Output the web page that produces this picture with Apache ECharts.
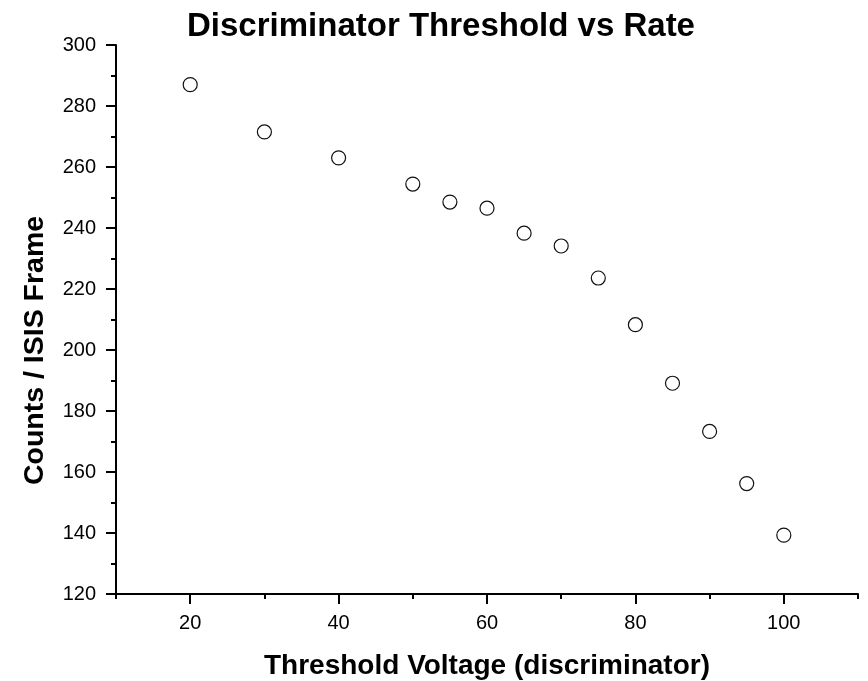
<!DOCTYPE html>
<html>
<head>
<meta charset="utf-8">
<script src="https://cdn.jsdelivr.net/npm/echarts@6/dist/echarts.min.js"></script>
<style>
html,body{margin:0;padding:0;background:#fff;}
#chart{width:868px;height:681px;}
</style>
</head>
<body>
<div id="chart"></div>
<script>
const thresholdVoltage = [20, 30, 40, 50, 55, 60, 65, 70, 75, 80, 85, 90, 95, 100];
const countsPerFrame = [287.0, 271.5, 263.0, 254.4, 248.5, 246.5, 238.3, 234.1, 223.6, 208.3, 189.1, 173.3, 156.2, 139.3];
const xMajorTicks = [20, 40, 60, 80, 100];
const titleText = 'Discriminator Threshold vs Rate';
const xName = 'Threshold Voltage (discriminator)';
const yName = 'Counts / ISIS Frame';

const FONT = 'Liberation Sans, Arial, Helvetica, sans-serif';
const points = thresholdVoltage.map((x, i) => [x, countsPerFrame[i]]);

const chart = echarts.init(document.getElementById('chart'), null, {renderer: 'canvas'});
chart.setOption({
  backgroundColor: '#ffffff',
  animation: false,
  title: {
    text: titleText,
    left: 182,
    top: 5,
    textStyle: {fontFamily: FONT, fontSize: 33, fontWeight: 'bold', color: '#000'}
  },
  grid: {left: 116, right: 10, top: 45, bottom: 87, containLabel: false, outerBoundsMode: 'none'},
  xAxis: [
    {
      type: 'value', min: 10, max: 110, interval: 10, position: 'bottom',
      axisLine: {show: true, onZero: false, lineStyle: {color: '#000', width: 2}},
      axisTick: {show: true, inside: false, length: 5, lineStyle: {color: '#000', width: 2}},
      axisLabel: {
        fontFamily: FONT, fontSize: 20, color: '#000', margin: 19,
        formatter: v => (xMajorTicks.indexOf(v) >= 0 ? String(v) : '')
      },
      splitLine: {show: false},
      name: xName, nameLocation: 'middle', nameGap: 58,
      nameTextStyle: {fontFamily: FONT, fontSize: 28, fontWeight: 'bold', color: '#000'}
    },
    {
      type: 'value', min: 10, max: 110, position: 'bottom',
      axisLine: {show: false, onZero: false},
      axisTick: {show: true, inside: false, length: 10, customValues: xMajorTicks, lineStyle: {color: '#000', width: 2}},
      axisLabel: {show: false},
      splitLine: {show: false}
    }
  ],
  yAxis: {
    type: 'value', min: 120, max: 300, interval: 20,
    axisLine: {show: true, onZero: false, lineStyle: {color: '#000', width: 2}},
    axisTick: {show: true, inside: false, length: 10, lineStyle: {color: '#000', width: 2}},
    minorTick: {show: true, splitNumber: 2, length: 5, lineStyle: {color: '#000', width: 2}},
    axisLabel: {fontFamily: FONT, fontSize: 20, color: '#000', margin: 20},
    splitLine: {show: false},
    name: yName, nameLocation: 'middle', nameGap: 66, nameRotate: 90,
    nameTextStyle: {fontFamily: FONT, fontSize: 28.5, fontWeight: 'bold', color: '#000', padding: [0, 62, 0, 0]}
  },
  series: [{
    type: 'scatter',
    xAxisIndex: 0,
    data: points,
    symbol: 'circle',
    symbolSize: 14,
    clip: false,
    itemStyle: {color: '#ffffff', borderColor: '#111', borderWidth: 1.2, opacity: 1}
  }]
});
</script>
</body>
</html>
